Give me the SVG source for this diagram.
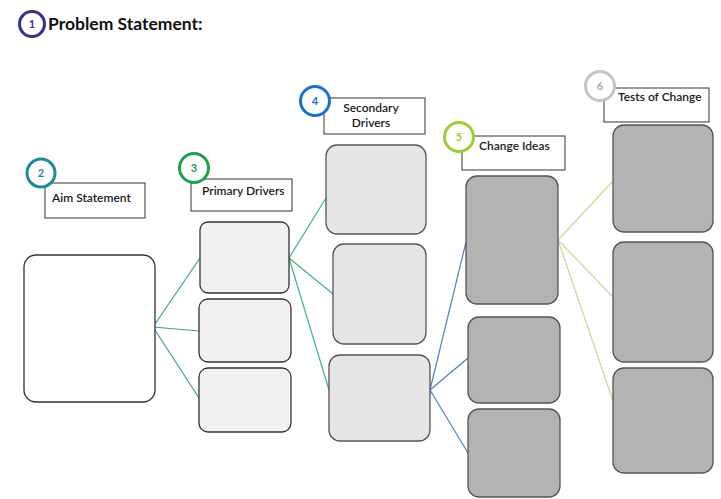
<svg xmlns="http://www.w3.org/2000/svg" width="721" height="499" viewBox="0 0 721 499">
  <style>
    .lbl { font-family: Lato, "Liberation Sans", sans-serif; font-size: 12px; font-weight: 600; fill: #1a1a1a; }
    .num { font-family: Lato, "Liberation Sans", sans-serif; font-size: 11px; font-weight: bold; text-anchor: middle; }
    .tag { fill: #fff; stroke: #333; stroke-width: 1; }
    .ring { fill: #fff; stroke-width: 3; }
    .aim { fill: #fff; stroke: #333; stroke-width: 1.3; }
    .pd { fill: #f0f0f0; stroke: #333; stroke-width: 1.3; }
    .sd { fill: #e6e6e6; stroke: #555; stroke-width: 1.3; }
    .ci { fill: #b3b3b3; stroke: #555; stroke-width: 1.3; }
    .conn line { stroke-width: 1.2; }
  </style>
  <rect width="721" height="499" fill="#fff"/>

  <!-- title -->
  <g id="problem">
    <circle class="ring" cx="32" cy="24" r="12.5" stroke="#3b318f"/>
    <text class="num" x="32" y="28" fill="#3b318f">1</text>
    <text x="48" y="30" font-family="Lato, 'Liberation Sans', sans-serif" font-size="17.5" font-weight="bold" fill="#111">Problem Statement:</text>
  </g>

  <!-- connectors -->
  <g id="connectors" class="conn">
    <g stroke="#3a9ca0">
      <line x1="153" y1="327" x2="200" y2="258"/>
      <line x1="153" y1="327" x2="199" y2="331"/>
      <line x1="153" y1="327" x2="199" y2="398"/>
    </g>
    <g stroke="#3cb878">
      <line x1="289" y1="258" x2="326" y2="198"/>
      <line x1="289" y1="258" x2="333" y2="294"/>
      <line x1="289" y1="258" x2="329" y2="390"/>
    </g>
    <g stroke="#4a7fc8">
      <line x1="430" y1="390" x2="466" y2="242"/>
      <line x1="430" y1="390" x2="468" y2="358"/>
      <line x1="430" y1="390" x2="468" y2="453"/>
    </g>
    <g stroke="#c4dc94">
      <line x1="558" y1="240" x2="613" y2="181"/>
      <line x1="558" y1="240" x2="613" y2="297"/>
      <line x1="558" y1="240" x2="613" y2="401"/>
    </g>
  </g>

  <!-- aim -->
  <g id="aim">
    <rect class="tag" x="45" y="183" width="100" height="35"/>
    <text class="lbl" x="52" y="202">Aim Statement</text>
    <circle class="ring" cx="41" cy="173" r="14" stroke="#1e8a9a"/>
    <text class="num" x="41" y="177" fill="#1e8a9a">2</text>
    <rect class="aim" x="24" y="255" width="131" height="147" rx="12"/>
  </g>

  <!-- primary drivers -->
  <g id="primary">
    <rect class="tag" x="191" y="179" width="101" height="32"/>
    <text class="lbl" x="202" y="195">Primary Drivers</text>
    <circle class="ring" cx="194" cy="168" r="14.5" stroke="#1f9e50"/>
    <text class="num" x="194" y="172" fill="#1f9e50">3</text>
    <rect class="pd" x="200" y="222" width="89" height="71" rx="8"/>
    <rect class="pd" x="199" y="299" width="92" height="63" rx="9"/>
    <rect class="pd" x="199" y="368" width="92" height="64" rx="9"/>
  </g>

  <!-- secondary drivers -->
  <g id="secondary">
    <rect class="tag" x="324" y="98" width="101" height="36"/>
    <text class="lbl" x="371" y="112" text-anchor="middle">Secondary</text>
    <text class="lbl" x="371" y="127" text-anchor="middle">Drivers</text>
    <circle class="ring" cx="315" cy="101" r="14.5" stroke="#1a6fd0"/>
    <text class="num" x="315" y="105" fill="#1a6fd0">4</text>
    <rect class="sd" x="326" y="145" width="100" height="89" rx="11"/>
    <rect class="sd" x="333" y="244" width="93" height="100" rx="11"/>
    <rect class="sd" x="329" y="355" width="101" height="86" rx="11"/>
  </g>

  <!-- change ideas -->
  <g id="change">
    <rect class="tag" x="462" y="136" width="103" height="34"/>
    <text class="lbl" x="479" y="150">Change Ideas</text>
    <circle class="ring" cx="459" cy="137" r="14.5" stroke="#9acd32"/>
    <text class="num" x="459" y="141" fill="#9acd32">5</text>
    <rect class="ci" x="466" y="176" width="92" height="128" rx="11"/>
    <rect class="ci" x="468" y="317" width="92" height="86" rx="11"/>
    <rect class="ci" x="468" y="409" width="92" height="88" rx="11"/>
  </g>

  <!-- tests of change -->
  <g id="tests">
    <rect class="tag" x="604" y="88" width="105" height="34"/>
    <text class="lbl" x="618" y="101">Tests of Change</text>
    <circle class="ring" cx="600" cy="86" r="14.5" stroke="#c4c4c4"/>
    <text class="num" x="600" y="90" fill="#a8a8a8">6</text>
    <rect class="ci" x="613" y="125" width="100" height="107" rx="11"/>
    <rect class="ci" x="613" y="242" width="100" height="120" rx="11"/>
    <rect class="ci" x="613" y="368" width="100" height="105" rx="11"/>
  </g>
</svg>
